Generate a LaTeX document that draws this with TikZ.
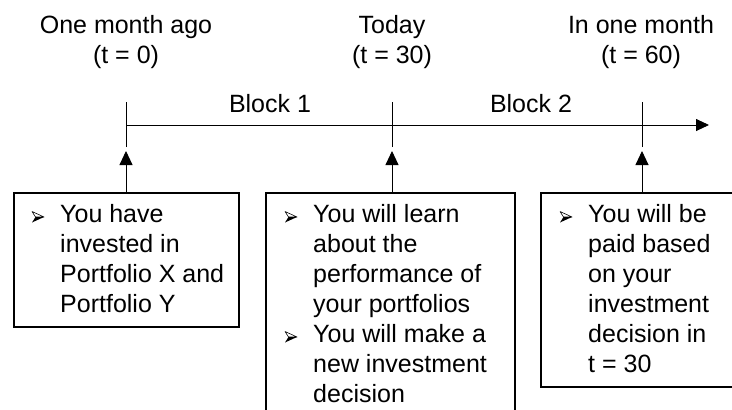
\documentclass[tikz,border=0pt]{standalone}
\usepackage{fontspec}
\setmainfont{Liberation Sans}
\usetikzlibrary{arrows.meta}

\begin{document}
\begin{tikzpicture}[x=1pt,y=-1pt,
  every node/.style={font=\fontsize{25}{30}\selectfont, inner sep=0pt},
  infobox/.style={draw, line width=1.6pt, anchor=north west, minimum height=#1},
  axis/.style={line width=0.9pt, -{Triangle[length=13pt,width=12pt]}},
  tickline/.style={line width=0.9pt},
  uparrow/.style={line width=0.9pt, -{Triangle[length=14pt,width=13pt]}},
  boxtext/.style={anchor=base west},
  % three-dimensional arrowhead bullet, origin on the text baseline
  bullet/.pic={
    \draw[line width=0.6pt, line join=round, fill=white] (0,-11) -- (12,-5.5) -- (3.5,-5.5) -- cycle;
    \fill[black, line join=round] (3.5,-5.5) -- (12,-5.5) -- (0,0) -- cycle;
  }
]
\useasboundingbox (0,0) rectangle (732,410);
\clip (0,0) rectangle (732,410);

% time points on the axis
\coordinate (p0) at (126,125);
\coordinate (p1) at (392,125);
\coordinate (p2) at (642,125);
\coordinate (pend) at (709,125);

% axis and tick marks
\draw[axis] (p0) -- (pend);
\foreach \p in {p0,p1,p2}{
  \draw[tickline] ([yshift=-22pt]\p) -- ([yshift=23pt]\p);
}

% labels above the axis
\node[anchor=base] (l0) at (126,33) {\parbox[t]{220pt}{\centering One month ago\\(t = 0)}};
\node[anchor=base] (l1) at (392,33) {\parbox[t]{220pt}{\centering Today\\(t = 30)}};
\node[anchor=base] (l2) at (641,33) {\parbox[t]{220pt}{\centering In one month\\(t = 60)}};
\node[anchor=base] (blk1) at (270,112) {Block 1};
\node[anchor=base] (blk2) at (531,112) {Block 2};

% description boxes
\node[infobox=134pt, minimum width=225pt] (b1) at (13,192) {};
\node[infobox=260pt, minimum width=249pt] (b2) at (265,192) {};
\node[infobox=194pt, minimum width=230pt] (b3) at (540,192) {};

% box texts
\node[boxtext] (t1) at (60,222.5) {\parbox[t]{200pt}{%
  You have\\invested in\\Portfolio X and\\Portfolio Y}};
\node[boxtext] (t2) at (313,222.5) {\parbox[t]{200pt}{%
  You will learn\\about the\\performance of\\your portfolios\\
  You will make a\\new investment\\decision}};
\node[boxtext] (t3) at (588,222.5) {\parbox[t]{200pt}{%
  You will be\\paid based\\on your\\investment\\decision in\\t = 30}};

% bullets
\pic at (32,222.5) {bullet};
\pic at (285,222.5) {bullet};
\pic at (285,342.5) {bullet};
\pic at (560,222.5) {bullet};

% arrows from the boxes up to the axis
\coordinate (a0) at ([yshift=-26pt]p0);
\coordinate (a1) at ([yshift=-26pt]p1);
\coordinate (a2) at ([yshift=-26pt]p2);
\draw[uparrow] (b1.north -| p0) -- (a0);
\draw[uparrow] (b2.north -| p1) -- (a1);
\draw[uparrow] (b3.north -| p2) -- (a2);
\end{tikzpicture}
\end{document}
